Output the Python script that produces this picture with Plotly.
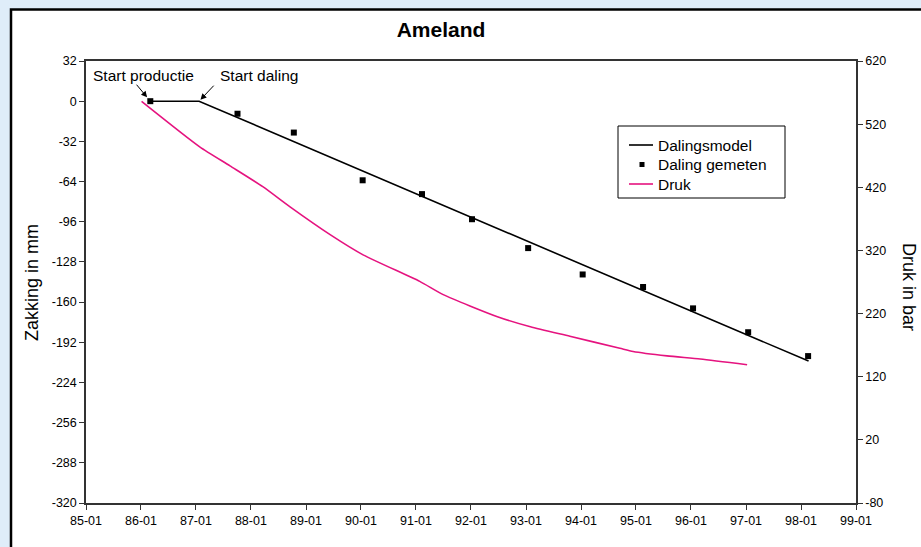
import plotly.graph_objects as go

# Dalingsmodel (model subsidence, mm)
model_dates = ["1986-03-04", "1987-01-22", "1998-02-20"]
model_mm = [0, 0, -207]

# Daling gemeten (measured subsidence, mm)
meas_dates = ["1986-03-04", "1987-10-04", "1988-10-12", "1990-01-12", "1991-02-10",
              "1992-01-08", "1993-01-15", "1994-01-12", "1995-02-17", "1996-01-15",
              "1997-01-15", "1998-02-17"]
meas_mm = [0, -10, -25, -63, -74, -94, -117, -138, -148, -165, -184, -203]

# Druk (reservoir pressure, bar)
druk_dates = ["1986-01-05", "1987-01-26", "1987-08-15", "1988-03-20", "1988-09-17",
              "1989-06-10", "1990-01-15", "1991-01-26", "1991-07-01", "1992-06-25",
              "1993-01-30", "1993-10-19", "1994-09-16", "1994-12-13", "1995-07-26",
              "1996-03-03", "1997-01-08"]
druk_bar = [556, 484, 454, 421, 389, 345, 313, 271, 250, 215, 199, 184, 165, 160,
            153, 148, 139]

# axis ticks
mm_ticks = [32, 0, -32, -64, -96, -128, -160, -192, -224, -256, -288, -320]
bar_ticks = [620, 520, 420, 320, 220, 120, 20, -80]

FONT = "Arial, 'Liberation Sans', sans-serif"
PINK = "#e5137f"
AXIS = "#333333"

W, H = 921, 547
ML, MR, MT, MB = 86, 65, 61, 44
PW, PH = W - ML - MR, H - MT - MB


def px(x):
    return (x - ML) / PW


def py(y):
    return (H - MB - y) / PH


fig = go.Figure()
fig.add_trace(go.Scatter(x=model_dates, y=model_mm, mode="lines", name="Dalingsmodel",
                         line=dict(color="black", width=1.6)))
fig.add_trace(go.Scatter(x=meas_dates, y=meas_mm, mode="markers", name="Daling gemeten",
                         marker=dict(symbol="square", size=6, color="black")))
fig.add_trace(go.Scatter(x=druk_dates, y=druk_bar, mode="lines", name="Druk", yaxis="y2",
                         line=dict(color=PINK, width=1.6, shape="spline", smoothing=0.6)))

# white framed panel behind the chart
fig.add_shape(type="rect", xref="paper", yref="paper", layer="below",
              x0=px(11), x1=px(935), y0=py(560), y1=py(9.5),
              fillcolor="white", line=dict(color="black", width=2.5))

ann_font = dict(family=FONT, size=15.5, color="black")
fig.add_annotation(text="Start productie", xref="paper", yref="paper", x=px(143), y=py(75),
                   xanchor="center", yanchor="middle", showarrow=False, font=ann_font)
fig.add_annotation(text="Start daling", xref="paper", yref="paper", x=px(259), y=py(75),
                   xanchor="center", yanchor="middle", showarrow=False, font=ann_font)
fig.add_annotation(x=meas_dates[0], y=meas_mm[0], text="", showarrow=True, ax=-15, ay=-18,
                   standoff=5, arrowhead=2, arrowsize=1.2, arrowwidth=1, arrowcolor="black")
fig.add_annotation(x=model_dates[1], y=model_mm[1], text="", showarrow=True, ax=16, ay=-17,
                   standoff=2, arrowhead=2, arrowsize=1.2, arrowwidth=1, arrowcolor="black")

# axis titles
fig.add_annotation(text="Zakking in mm", xref="paper", yref="paper", x=px(32), y=py(283),
                   xanchor="center", yanchor="middle", showarrow=False, textangle=-90,
                   font=dict(family=FONT, size=18, color="black"))
fig.add_annotation(text="Druk in bar", xref="paper", yref="paper", x=px(909), y=py(287),
                   xanchor="center", yanchor="middle", showarrow=False, textangle=90,
                   font=dict(family=FONT, size=18, color="black"))

# legend box
LX0, LY0, LX1, LY1 = 618, 126, 785, 198
fig.add_shape(type="rect", xref="paper", yref="paper", x0=px(LX0), x1=px(LX1),
              y0=py(LY1), y1=py(LY0), fillcolor="white", line=dict(color="black", width=1))
rows = [145, 164.5, 184]
fig.add_shape(type="line", xref="paper", yref="paper", x0=px(629), x1=px(653),
              y0=py(rows[0]), y1=py(rows[0]), line=dict(color="black", width=1.6))
fig.add_shape(type="rect", xref="paper", yref="paper", x0=px(639.5), x1=px(644.5),
              y0=py(rows[1] + 2.5), y1=py(rows[1] - 2.5), fillcolor="black",
              line=dict(width=0))
fig.add_shape(type="line", xref="paper", yref="paper", x0=px(629), x1=px(653),
              y0=py(rows[2]), y1=py(rows[2]), line=dict(color=PINK, width=1.6))
for name, ry in zip(["Dalingsmodel", "Daling gemeten", "Druk"], rows):
    fig.add_annotation(text=name, xref="paper", yref="paper", x=px(656), y=py(ry),
                       xanchor="left", yanchor="middle", showarrow=False,
                       font=dict(family=FONT, size=15.5, color="black"))

tick_font = dict(family=FONT, size=12.5, color="black")
fig.update_layout(
    width=W, height=H,
    margin=dict(l=ML, r=MR, t=MT, b=MB),
    paper_bgcolor="#dfedf9",
    plot_bgcolor="rgba(0,0,0,0)",
    showlegend=False,
    title=dict(text="<b>Ameland</b>", x=441 / W, xanchor="center", y=1 - 30 / H,
               yanchor="middle", font=dict(family=FONT, size=21, color="black")),
    xaxis=dict(type="date", range=["1985-01-01", "1999-01-01"], tick0="1985-01-01",
               dtick="M12", tickformat="%y-%m", showgrid=False, zeroline=False,
               showline=True, linecolor=AXIS, linewidth=1.5, mirror=True,
               ticks="outside", ticklen=5, tickcolor=AXIS, tickfont=tick_font),
    yaxis=dict(range=[-320, 32], tickmode="array", tickvals=mm_ticks,
               ticktext=[str(v) for v in mm_ticks], showgrid=False, zeroline=False,
               showline=True, linecolor=AXIS, linewidth=1.5,
               ticks="outside", ticklen=5, tickcolor=AXIS, tickfont=tick_font),
    yaxis2=dict(range=[-80, 620], tickmode="array", tickvals=bar_ticks,
                ticktext=[str(v) for v in bar_ticks], overlaying="y", side="right",
                showgrid=False, zeroline=False, showline=True, linecolor=AXIS, linewidth=1.5,
                ticks="outside", ticklen=5, tickcolor=AXIS, tickfont=tick_font),
)

fig.write_html("out.html")
